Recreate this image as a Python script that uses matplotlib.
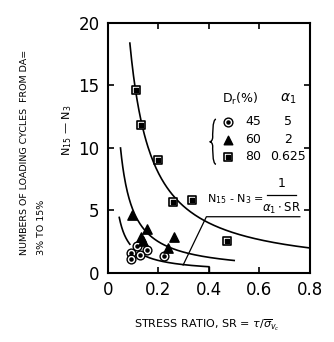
import numpy as np
import matplotlib
matplotlib.use("Agg")
import matplotlib.pyplot as plt
from matplotlib.path import Path
from matplotlib.patches import PathPatch

plt.rcParams['mathtext.fontset'] = 'dejavusans'

# ---- data ----
sr_45 = [0.116, 0.090, 0.156, 0.127, 0.090, 0.222]
n_45 = [2.16, 1.60, 1.80, 1.43, 1.10, 1.36]

sr_60 = [0.094, 0.153, 0.133, 0.138, 0.263, 0.239]
n_60 = [4.64, 3.50, 2.90, 2.55, 2.85, 2.00]

sr_80 = [0.110, 0.133, 0.197, 0.256, 0.334, 0.470]
n_80 = [14.6, 11.85, 9.0, 5.65, 5.84, 2.58]

alphas = [5, 2, 0.625]
dr_values = ['45', '60', '80']
alpha_labels = ['5', '2', '0.625']
curve_ranges = {5: [(0.045, 0.087), (0.15, 0.40)], 2: [(0.05, 0.50)], 0.625: [(0.087, 0.80)]}

x_ticks = [0, 0.2, 0.4, 0.6, 0.8]
x_ticklabels = ['0', '0.2', '0.4', '0.6', '0.8']
y_ticks = [0, 5, 10, 15, 20]

fig = plt.figure(figsize=(3.34, 3.42), dpi=100)
ax = fig.add_axes([0.323, 0.2018, 0.605, 0.731])
ax.set_xlim(0, 0.8)
ax.set_ylim(0, 20)

for s in ax.spines.values():
    s.set_linewidth(1.5)

ax.set_xticks(x_ticks)
ax.set_xticklabels(x_ticklabels)
ax.set_yticks(y_ticks)
ax.tick_params(direction='in', length=4, width=1.2, top=True, right=True,
               labelsize=12, pad=6)

# curves N = 1/(alpha*SR)
for a in alphas:
    for (lo, hi) in curve_ranges[a]:
        xs = np.linspace(lo, hi, 200)
        ax.plot(xs, 1.0 / (a * xs), color='black', lw=1.2, zorder=2)
# short drop at end of lowest curve
ax.plot([0.40, 0.40], [1.0 / (5 * 0.40), 0], color='black', lw=1.0, zorder=2)

# data points
def dotted_circle(x, y):
    ax.scatter(x, y, s=40, facecolor='white', edgecolor='black', linewidth=1.0, zorder=4)
    ax.scatter(x, y, s=5, color='black', zorder=5)

def dotted_square(x, y):
    ax.scatter(x, y, marker='s', s=30, facecolor='white', edgecolor='black', linewidth=1.2, zorder=4)
    ax.scatter(x, y, marker='s', s=5, color='black', zorder=5)

dotted_circle(sr_45, n_45)
ax.scatter(sr_60, n_60, marker='^', s=45, color='black', zorder=4)
dotted_square(sr_80, n_80)

# legend table
ax.text(0.523, 13.9, r'D$_\mathregular{r}$(%)', fontsize=9, ha='center', va='center')
ax.text(0.713, 13.9, r'$\alpha_1$', fontsize=10, ha='center', va='center')
rows_y = [12.1, 10.64, 9.3]
dotted_circle([0.476], [rows_y[0]])
ax.scatter([0.476], [rows_y[1]], marker='^', s=38, color='black', zorder=4)
dotted_square([0.476], [rows_y[2]])
for yy, d, al in zip(rows_y, dr_values, alpha_labels):
    ax.text(0.575, yy, d, fontsize=9, ha='center', va='center')
    ax.text(0.713, yy, al, fontsize=9, ha='center', va='center')

# brace
bx0, bx1 = 0.403, 0.428
ytop, ybot, ymid = 12.3, 8.7, 10.5
verts = [(bx1, ytop), (bx0 + 0.010, ytop), (bx0 + 0.012, ymid + 0.4), (bx0 + 0.012, ymid + 0.4),
         (bx0 + 0.012, ymid + 0.1), (bx0 + 0.005, ymid), (bx0, ymid),
         (bx0 + 0.005, ymid), (bx0 + 0.012, ymid - 0.1), (bx0 + 0.012, ymid - 0.4),
         (bx0 + 0.012, ymid - 0.4), (bx0 + 0.010, ybot), (bx1, ybot)]
codes = [Path.MOVETO, Path.CURVE4, Path.CURVE4, Path.CURVE4,
         Path.CURVE4, Path.CURVE4, Path.CURVE4,
         Path.CURVE4, Path.CURVE4, Path.CURVE4,
         Path.CURVE4, Path.CURVE4, Path.CURVE4]
ax.add_patch(PathPatch(Path(verts, codes), facecolor='none', edgecolor='black', lw=1.0, zorder=3))

# equation (N15 - N3 = 1 / (alpha1 . SR)) and leader line
ax.text(0.505, 5.95, r'N$_{15}$ - N$_3$ =', fontsize=8, ha='center', va='center')
ax.text(0.688, 7.15, '1', fontsize=9, ha='center', va='center')
ax.plot([0.628, 0.745], [6.2, 6.2], color='black', lw=0.9)
ax.text(0.688, 5.2, r'$\alpha_1\cdot$SR', fontsize=8.5, ha='center', va='center')
ax.plot([0.298, 0.39, 0.76], [0.64, 4.5, 4.5], color='black', lw=0.9, zorder=3)

# axis labels
fig.text(0.62, 0.048, r'STRESS RATIO, SR = $\tau/\overline{\sigma}_{v_c}$', fontsize=8,
         ha='center', va='center')
fig.text(0.20, 0.62, r'N$_{15}$ — N$_{3}$', fontsize=8, rotation=90, ha='center', va='center')
fig.text(0.072, 0.255, 'NUMBERS OF LOADING CYCLES  FROM DA=', fontsize=6.8, rotation=90,
         ha='center', va='bottom')
fig.text(0.125, 0.255, '3% TO 15%', fontsize=6.8, rotation=90, ha='center', va='bottom')

fig.savefig('out.png', dpi=100)
